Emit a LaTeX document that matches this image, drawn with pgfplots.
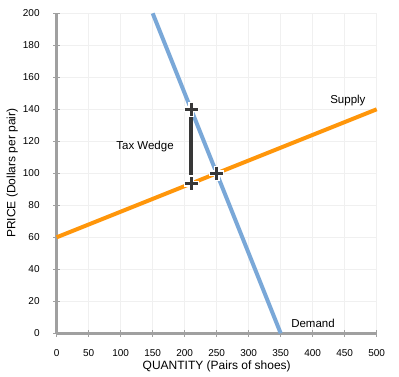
\documentclass[border=0pt]{standalone}
\usepackage{pgfplots}
\pgfplotsset{compat=1.18}
\usepackage{fontspec}
\setmainfont{Liberation Sans}
\definecolor{demandc}{RGB}{122,168,216}
\definecolor{supplyc}{RGB}{255,150,10}
\definecolor{axgray}{RGB}{160,160,160}
\definecolor{gridc}{RGB}{240,240,240}
\definecolor{markc}{RGB}{55,55,55}
\begin{document}
\begin{tikzpicture}
\begin{axis}[
  at={(56.7bp,43.7bp)}, anchor=south west,
  scale only axis, width=320bp, height=320bp,
  xmin=0, xmax=500, ymin=0, ymax=200,
  axis lines=left,
  axis line style={-, draw=axgray, line width=2.5bp},
  xtick={0,50,...,500}, ytick={0,20,...,200},
  grid=major,
  major grid style={draw=gridc, line width=1.5bp},
  tick style={draw=axgray, line width=1.5bp},
  major tick length=7bp, tick align=center,
  /pgf/number format/assume math mode=true,
  ticklabel style={font=\fontsize{10bp}{12bp}\selectfont, inner sep=0pt},
  xticklabel style={anchor=center, yshift=-16bp},
  yticklabel style={anchor=east, xshift=-13.4bp},
  xlabel={QUANTITY (Pairs of shoes)},
  ylabel={PRICE (Dollars per pair)},
  label style={font=\fontsize{12bp}{14bp}\selectfont, inner sep=0pt},
  xlabel style={at={(axis description cs:0.5,-0.1045)}, anchor=center},
  ylabel style={at={(axis description cs:-0.1388,0.5)}, anchor=center, rotate=0},
  clip=false,
]
\addplot[supplyc, line width=4bp] coordinates {(0,60) (500,140)};
\addplot[demandc, line width=4bp] coordinates {(150,200) (350,0)};
\addplot[markc, line width=3.5bp] coordinates {(210,135) (210,99)};
\addplot[only marks, mark=+, mark size=7.5bp, mark options={draw=white, line width=6bp}] coordinates {(210,140) (210,93.6) (250,100)};
\addplot[only marks, mark=+, mark size=6.5bp, mark options={draw=markc, line width=3bp}] coordinates {(210,140) (210,93.6) (250,100)};
\node[font=\fontsize{11.5bp}{13bp}\selectfont] at (axis cs:455,145.2) {Supply};
\node[font=\fontsize{11.5bp}{13bp}\selectfont] at (axis cs:400.5,6.4) {Demand};
\node[font=\fontsize{11.5bp}{13bp}\selectfont] at (axis cs:138,117) {Tax Wedge};
\end{axis}
\path (0,0) rectangle (399bp,377bp);
\end{tikzpicture}
\end{document}
